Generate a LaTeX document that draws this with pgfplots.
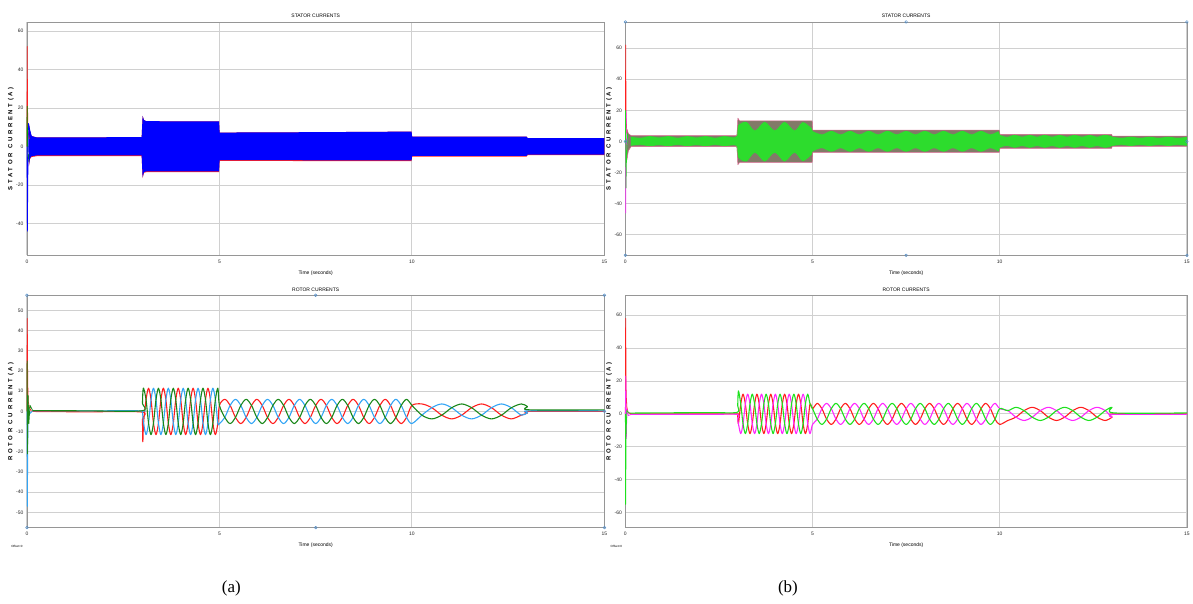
\documentclass[border=0pt]{standalone}
\usepackage{pgfplots}
\pgfplotsset{compat=1.18}
\usepackage{pgfplotstable}
\usepgfplotslibrary{fillbetween}
\usepackage{fontspec}
\setmainfont{Liberation Serif}
\newfontfamily\sans{Liberation Sans}
\newfontfamily\labfont[LetterSpace=45]{Liberation Sans}

\definecolor{gridc}{RGB}{208,208,208}
\definecolor{boxc}{RGB}{150,150,150}
\definecolor{sred}{RGB}{255,30,30}
\definecolor{lblue}{RGB}{50,165,245}
\definecolor{dgreen}{RGB}{25,135,25}
\definecolor{mag}{RGB}{255,40,255}
\definecolor{bgreen}{RGB}{30,225,30}
\definecolor{lobec}{RGB}{45,220,45}
\definecolor{bandc}{RGB}{130,122,104}
\definecolor{pinkedge}{RGB}{215,100,140}
\definecolor{handle}{RGB}{80,140,200}

% ---------- stator (a): band envelopes ----------
\pgfplotstableread{
t u l rl
0.05 12 -10 -10.4
0.08 8 -6 -6.4
0.12 5.5 -5 -5.4
0.25 4.8 -4.6 -5.0
2.98 4.9 -4.6 -5.0
3.005 16 -16 -16.4
3.04 13.8 -13.2 -13.6
3.1 13.2 -12.9 -13.3
4.99 13.1 -12.9 -13.3
5.005 7.3 -7.0 -7.4
7.5 7.5 -7.1 -7.5
9.99 7.8 -7.2 -7.6
10.005 5.2 -4.8 -5.2
12.98 5.2 -4.8 -5.2
13.005 4.4 -4.1 -4.4
15 4.4 -4.1 -4.4
}\statA

% ---------- stator (b): band and green lobes ----------
\pgfplotstableread{
t u l
0.04 8 -12
0.08 5 -6
0.15 3.8 -3.4
2.98 3.8 -3.4
3.005 15 -15
3.05 13.2 -13.5
4.99 13.2 -13.5
5.005 7.2 -7.0
9.99 7.2 -7.0
10.005 4.6 -4.4
12.99 4.6 -4.4
13.005 3.4 -3.2
15 3.4 -3.2
}\statB

\pgfplotstableread{
t u l
0.15 3.0 -2.8
0.40 2.3 -2.1
0.65 3.4 -3.1
0.90 2.5 -2.3
1.15 3.4 -3.1
1.40 2.3 -2.1
1.65 3.4 -3.1
1.90 2.5 -2.3
2.15 3.4 -3.1
2.40 2.3 -2.1
2.65 3.4 -3.1
2.95 2.8 -2.6
3.005 10 -10
3.23 12.6 -12.9
3.46 7.0 -7.2
3.72 12.6 -12.9
3.99 7.0 -7.2
4.25 12.6 -12.9
4.52 7.0 -7.2
4.74 12.4 -12.7
4.99 8 -8
5.005 6.6 -6.4
5.25 4.5 -4.3
5.5 6.8 -6.6
5.75 4.5 -4.3
6.0 6.8 -6.6
6.25 4.5 -4.3
6.5 6.8 -6.6
6.75 4.5 -4.3
7.0 6.8 -6.6
7.25 4.5 -4.3
7.5 6.8 -6.6
7.75 4.5 -4.3
8.0 6.8 -6.6
8.25 4.5 -4.3
8.5 6.8 -6.6
8.75 4.5 -4.3
9.0 6.8 -6.6
9.25 4.5 -4.3
9.5 6.8 -6.6
9.75 4.5 -4.3
9.99 6.6 -6.4
10.005 4.3 -4.1
10.2 2.9 -2.8
10.4 4.3 -4.1
10.6 2.9 -2.8
10.8 4.3 -4.1
11.0 2.9 -2.8
11.2 4.3 -4.1
11.4 2.9 -2.8
11.6 4.3 -4.1
11.8 2.9 -2.8
12.0 4.3 -4.1
12.2 2.9 -2.8
12.4 4.3 -4.1
12.6 2.9 -2.8
12.8 4.3 -4.1
12.99 3.2 -3.0
13.005 3.1 -2.9
13.25 2.2 -2.1
13.5 3.1 -2.9
13.75 2.2 -2.1
14.0 3.1 -2.9
14.25 2.2 -2.1
14.5 3.1 -2.9
14.75 2.2 -2.1
15.0 3.0 -2.8
}\lobeB

% ---------- rotor (a) ----------
\pgfplotstableread{
t r b g
0.15 0.0 0.3 0.4
1.50 -0.2 0.3 0.3
2.98 -0.3 0.3 0.3
3.000 -4 0 4
3.010 -15 -2 9
3.030 -5.8 -5.8 11.5
3.094 5.8 -11.5 5.8
3.159 11.5 -5.8 -5.8
3.223 5.8 5.8 -11.5
3.287 -5.8 11.5 -5.8
3.352 -11.5 5.8 5.8
3.416 -5.8 -5.8 11.5
3.480 5.8 -11.5 5.8
3.544 11.5 -5.8 -5.8
3.609 5.8 5.8 -11.5
3.673 -5.8 11.5 -5.8
3.737 -11.5 5.8 5.8
3.802 -5.8 -5.8 11.5
3.866 5.8 -11.5 5.8
3.930 11.5 -5.8 -5.8
3.995 5.8 5.8 -11.5
4.059 -5.8 11.5 -5.8
4.123 -11.5 5.8 5.8
4.187 -5.8 -5.8 11.5
4.252 5.8 -11.5 5.8
4.316 11.5 -5.8 -5.8
4.380 5.8 5.8 -11.5
4.445 -5.8 11.5 -5.8
4.509 -11.5 5.8 5.8
4.573 -5.8 -5.8 11.5
4.638 5.8 -11.5 5.8
4.702 11.5 -5.8 -5.8
4.766 5.8 5.8 -11.5
4.830 -5.8 11.5 -5.8
4.895 -11.5 5.8 5.8
4.959 -5.8 -5.8 11.5
5.000 3 -6 3
5.139 6 -3 -3
5.278 3 3 -6
5.417 -3 6 -3
5.556 -6 3 3
5.694 -3 -3 6
5.833 3 -6 3
5.972 6 -3 -3
6.111 3 3 -6
6.250 -3 6 -3
6.389 -6 3 3
6.528 -3 -3 6
6.667 3 -6 3
6.806 6 -3 -3
6.944 3 3 -6
7.083 -3 6 -3
7.222 -6 3 3
7.361 -3 -3 6
7.500 3 -6 3
7.639 6 -3 -3
7.778 3 3 -6
7.917 -3 6 -3
8.056 -6 3 3
8.194 -3 -3 6
8.333 3 -6 3
8.472 6 -3 -3
8.611 3 3 -6
8.750 -3 6 -3
8.889 -6 3 3
9.028 -3 -3 6
9.167 3 -6 3
9.306 6 -3 -3
9.444 3 3 -6
9.583 -3 6 -3
9.722 -6 3 3
9.861 -3 -3 6
10.000 3 -6 3
10.258 3.7 -1.85 -1.85
10.517 1.85 1.85 -3.7
10.775 -1.85 3.7 -1.85
11.033 -3.7 1.85 1.85
11.292 -1.85 -1.85 3.7
11.550 1.85 -3.7 1.85
11.808 3.7 -1.85 -1.85
12.067 1.85 1.85 -3.7
12.325 -1.85 3.7 -1.85
12.583 -3.7 1.85 1.85
12.842 -1.85 -1.85 3.7
13.000 -0.8 -0.6 2.4
13.050 0 0.3 0.8
15.000 0 0.3 0.8
}\rotA

% ---------- rotor (b) ----------
\pgfplotstableread{
t r m g
0.15 0 -0.3 0.5
2.20 0 -0.3 0.8
2.98 0 -0.3 0.9
3.000 -1 -3 5
3.020 -6 -6 14
3.082 6 -12 6
3.143 12 -6 -6
3.205 6 6 -12
3.267 -6 12 -6
3.329 -12 6 6
3.390 -6 -6 12
3.452 6 -12 6
3.514 12 -6 -6
3.575 6 6 -12
3.637 -6 12 -6
3.699 -12 6 6
3.760 -6 -6 12
3.822 6 -12 6
3.884 12 -6 -6
3.946 6 6 -12
4.007 -6 12 -6
4.069 -12 6 6
4.131 -6 -6 12
4.192 6 -12 6
4.254 12 -6 -6
4.316 6 6 -12
4.377 -6 12 -6
4.439 -12 6 6
4.501 -6 -6 12
4.563 6 -12 6
4.624 12 -6 -6
4.686 6 6 -12
4.748 -6 12 -6
4.809 -12 6 6
4.871 -6 -6 12
4.933 6 -12 6
5.000 3.2 -6.4 3.2
5.125 6.4 -3.2 -3.2
5.250 3.2 3.2 -6.4
5.375 -3.2 6.4 -3.2
5.500 -6.4 3.2 3.2
5.625 -3.2 -3.2 6.4
5.750 3.2 -6.4 3.2
5.875 6.4 -3.2 -3.2
6.000 3.2 3.2 -6.4
6.125 -3.2 6.4 -3.2
6.250 -6.4 3.2 3.2
6.375 -3.2 -3.2 6.4
6.500 3.2 -6.4 3.2
6.625 6.4 -3.2 -3.2
6.750 3.2 3.2 -6.4
6.875 -3.2 6.4 -3.2
7.000 -6.4 3.2 3.2
7.125 -3.2 -3.2 6.4
7.250 3.2 -6.4 3.2
7.375 6.4 -3.2 -3.2
7.500 3.2 3.2 -6.4
7.625 -3.2 6.4 -3.2
7.750 -6.4 3.2 3.2
7.875 -3.2 -3.2 6.4
8.000 3.2 -6.4 3.2
8.125 6.4 -3.2 -3.2
8.250 3.2 3.2 -6.4
8.375 -3.2 6.4 -3.2
8.500 -6.4 3.2 3.2
8.625 -3.2 -3.2 6.4
8.750 3.2 -6.4 3.2
8.875 6.4 -3.2 -3.2
9.000 3.2 3.2 -6.4
9.125 -3.2 6.4 -3.2
9.250 -6.4 3.2 3.2
9.375 -3.2 -3.2 6.4
9.500 3.2 -6.4 3.2
9.625 6.4 -3.2 -3.2
9.750 3.2 3.2 -6.4
9.875 -3.2 6.4 -3.2
10.000 -6.4 3.2 3.2
10.217 -4 2 2
10.433 -2 -2 4
10.650 2 -4 2
10.867 4 -2 -2
11.083 2 2 -4
11.300 -2 4 -2
11.517 -4 2 2
11.733 -2 -2 4
11.950 2 -4 2
12.167 4 -2 -2
12.383 2 2 -4
12.600 -2 4 -2
12.817 -4 2 2
13.000 -2 -2 4
13.050 0 -0.3 0.6
15.000 0 -0.3 0.6
}\rotB

\pgfplotsset{
 scope/.style={
  scale only axis, anchor=south west, clip=false,
  xmin=0, xmax=15, xtick={0,5,10,15},
  grid=major, grid style={gridc, line width=0.9pt},
  axis line style={boxc, line width=0.7pt},
  major tick length=0pt,
  tick label style={font=\sans\fontsize{5}{6}\selectfont, text=black!85},
  /pgf/number format/assume math mode=true,
  xticklabel style={yshift=-1pt},
  title style={font=\sans\fontsize{5}{6}\selectfont, yshift=-5.5pt},
  xlabel={Time (seconds)},
  xlabel style={font=\sans\fontsize{5}{6}\selectfont, at={(axis description cs:0.5,0)}, anchor=north, yshift=-12pt},
  every axis plot/.append style={line join=round},
 },
 rl/.style={line width=1.1pt, smooth},
}

\begin{document}
\begin{tikzpicture}
\path (0,0) rectangle (1193pt,605pt);

% ===== (a) stator =====
\begin{axis}[scope, at={(27pt,349pt)}, width=579pt, height=234pt,
  ymin=-56.5, ymax=64.8, ytick={-40,-20,0,20,40,60},
  title={STATOR CURRENTS}, ylabel={STATOR CURRENT(A)},
  ylabel style={font=\labfont\bfseries\fontsize{6}{7}\selectfont, at={(axis description cs:-0.017,0.5)}, anchor=south}]
\addplot[name path=aU, draw=none] table[x=t,y=u]{\statA};
\addplot[name path=aL, draw=none] table[x=t,y=l]{\statA};
\addplot[name path=aR, draw=none] table[x=t,y=rl]{\statA};
\addplot[fill=sred, draw=none] fill between[of=aU and aR];
\addplot[fill=blue, draw=none] fill between[of=aU and aL];
\addplot[sred, line width=0.7pt] coordinates {(0,0) (0.008,52) (0.016,20) (0.03,8) (0.06,4)};
\addplot[green!60!black, line width=0.7pt] coordinates {(0,0) (0.006,21) (0.015,5) (0.03,-8) (0.05,-4)};
\addplot[blue, line width=0.7pt] coordinates {(0,0) (0.012,-44) (0.025,-15) (0.04,12) (0.07,9) (0.12,5)};
\end{axis}

% ===== (a) rotor =====
\begin{axis}[scope, at={(27pt,76pt)}, width=579pt, height=233pt,
  ymin=-57.5, ymax=57.5, ytick={-50,-40,...,50},
  title={ROTOR CURRENTS}, ylabel={ROTOR CURRENT(A)},
  ylabel style={font=\labfont\bfseries\fontsize{6}{7}\selectfont, at={(axis description cs:-0.017,0.5)}, anchor=south}]
\addplot[sred, line width=0.8pt] coordinates {(0,0) (0.008,46) (0.02,14) (0.035,5) (0.06,2) (0.12,0)};
\addplot[lblue, line width=0.8pt] coordinates {(0,0) (0.012,-47) (0.025,-10) (0.04,2) (0.08,-1) (0.15,0.3)};
\addplot[dgreen, line width=0.8pt] coordinates {(0,0) (0.006,25) (0.015,-21) (0.03,8) (0.05,-6) (0.08,3) (0.15,0.4)};
\addplot[sred, rl] table[x=t,y=r]{\rotA};
\addplot[lblue, rl] table[x=t,y=b]{\rotA};
\addplot[dgreen, rl] table[x=t,y=g]{\rotA};
\addplot[only marks, mark=o, mark size=1.4pt, handle, mark options={line width=0.5pt}]
  coordinates {(0,57.5) (7.5,57.5) (15,57.5) (0,-57.5) (7.5,-57.5) (15,-57.5) (15,0)};
\end{axis}

% ===== (b) stator =====
\begin{axis}[scope, at={(627pt,349pt)}, width=563pt, height=234pt,
  ymin=-73.2, ymax=76.8, ytick={-60,-40,...,60},
  title={STATOR CURRENTS}, ylabel={STATOR CURRENT(A)},
  ylabel style={font=\labfont\bfseries\fontsize{6}{7}\selectfont, at={(axis description cs:-0.018,0.5)}, anchor=south}]
\addplot[name path=bU, draw=none] table[x=t,y=u]{\statB};
\addplot[name path=bL, draw=none] table[x=t,y=l]{\statB};
\addplot[fill=bandc, draw=none] fill between[of=bU and bL];
\addplot[pinkedge, line width=0.5pt] table[x=t,y=u]{\statB};
\addplot[pinkedge, line width=0.5pt] table[x=t,y=l]{\statB};
\addplot[name path=gU, draw=none, smooth] table[x=t,y=u]{\lobeB};
\addplot[name path=gL, draw=none, smooth] table[x=t,y=l]{\lobeB};
\addplot[fill=lobec, draw=none] fill between[of=gU and gL];
\addplot[sred, line width=0.7pt] coordinates {(0,0) (0.008,62) (0.02,15) (0.04,5)};
\addplot[mag, line width=0.7pt] coordinates {(0,0) (0.012,-46) (0.02,20) (0.03,-5) (0.06,3)};
\addplot[bgreen, line width=0.7pt] coordinates {(0,0) (0.006,20) (0.015,-30) (0.03,-10) (0.06,5)};
\addplot[only marks, mark=o, mark size=1.4pt, handle, mark options={line width=0.5pt}]
  coordinates {(0,76.8) (7.5,76.8) (15,76.8) (0,-73.2) (7.5,-73.2) (15,-73.2) (0,0) (15,0)};
\end{axis}

% ===== (b) rotor =====
\begin{axis}[scope, at={(627pt,76pt)}, width=563pt, height=233pt,
  ymin=-69.1, ymax=72.1, ytick={-60,-40,...,60},
  title={ROTOR CURRENTS}, ylabel={ROTOR CURRENT(A)},
  ylabel style={font=\labfont\bfseries\fontsize{6}{7}\selectfont, at={(axis description cs:-0.018,0.5)}, anchor=south}]
\addplot[sred, line width=0.8pt] coordinates {(0,0) (0.008,58) (0.02,12) (0.04,4) (0.07,1) (0.15,0)};
\addplot[mag, line width=0.8pt] coordinates {(0,0) (0.012,23) (0.025,-15) (0.04,3) (0.08,-1) (0.15,-0.3)};
\addplot[bgreen, line width=0.8pt] coordinates {(0,0) (0.006,-55) (0.02,-10) (0.04,2) (0.1,0.5) (0.15,0.5)};
\addplot[sred, rl] table[x=t,y=r]{\rotB};
\addplot[mag, rl] table[x=t,y=m]{\rotB};
\addplot[bgreen, rl] table[x=t,y=g]{\rotB};
\end{axis}

\node[font=\sans\fontsize{3}{3}\selectfont] at (17pt,57pt) {Offset=0};
\node[font=\sans\fontsize{3}{3}\selectfont] at (618pt,57pt) {Offset=0};
\node[font=\fontsize{17}{19}\selectfont] at (232pt,15pt) {(a)};
\node[font=\fontsize{17}{19}\selectfont] at (790pt,15pt) {(b)};
\end{tikzpicture}
\end{document}
